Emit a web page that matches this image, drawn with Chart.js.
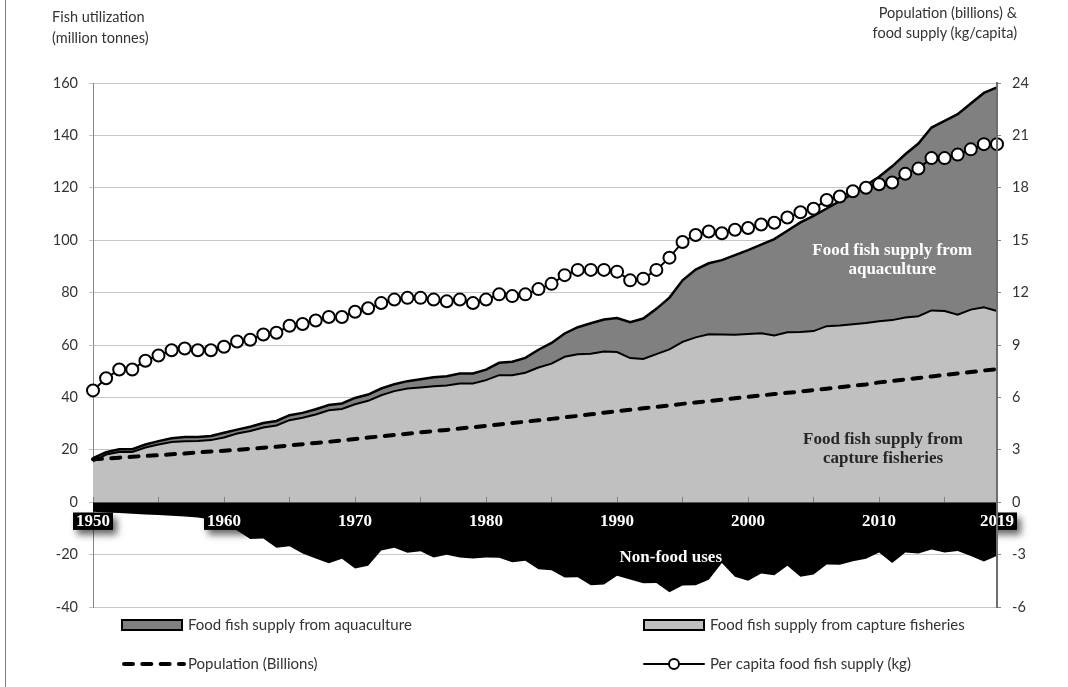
<!DOCTYPE html>
<html>
<head>
<meta charset="utf-8">
<title>Fish utilization and supply, 1950-2019</title>
<script src="https://cdn.jsdelivr.net/npm/chart.js@4.4.1/dist/chart.umd.min.js"></script>
<style>
  html, body { margin: 0; padding: 0; background: #fff; }
  body { width: 1068px; height: 687px; overflow: hidden; position: relative; font-family: Lato, sans-serif; }
  #wrap { position: absolute; left: 0; top: 0; width: 1068px; height: 687px; }
  #frame { position: absolute; left: 5px; top: 0; width: 1px; height: 687px; background: #7f7f7f; }
  .axis-title { position: absolute; font-size: 14.5px; color: #333; }
  #titleLeft { left: 52px; top: 6px; line-height: 21px; }
  #titleRight { right: 51px; top: 3px; line-height: 20px; text-align: right; }
</style>
</head>
<body>
<div id="wrap"><canvas id="fishChart"></canvas></div>
<div id="frame"></div>
<div class="axis-title" id="titleLeft">Fish utilization<br>(million tonnes)</div>
<div class="axis-title" id="titleRight">Population (billions) &amp;<br>food supply (kg/capita)</div>
<script>
const years = [
  1950, 1951, 1952, 1953, 1954, 1955, 1956, 1957, 1958, 1959,
  1960, 1961, 1962, 1963, 1964, 1965, 1966, 1967, 1968, 1969,
  1970, 1971, 1972, 1973, 1974, 1975, 1976, 1977, 1978, 1979,
  1980, 1981, 1982, 1983, 1984, 1985, 1986, 1987, 1988, 1989,
  1990, 1991, 1992, 1993, 1994, 1995, 1996, 1997, 1998, 1999,
  2000, 2001, 2002, 2003, 2004, 2005, 2006, 2007, 2008, 2009,
  2010, 2011, 2012, 2013, 2014, 2015, 2016, 2017, 2018, 2019
];

// million tonnes (left axis)
const captureSupply = [
  15.6, 18.2, 19.2, 19.2, 20.9, 22.0, 23.0, 23.3, 23.4, 23.7,
  24.7, 26.2, 27.2, 28.5, 29.3, 31.3, 32.2, 33.5, 35.1, 35.6,
  37.4, 38.7, 40.8, 42.4, 43.4, 43.8, 44.3, 44.5, 45.3, 45.3,
  46.6, 48.5, 48.5, 49.4, 51.4, 52.9, 55.5, 56.5, 56.7, 57.5,
  57.3, 55.0, 54.7, 56.5, 58.3, 61.2, 62.9, 64.1, 64.0, 63.9,
  64.2, 64.5, 63.6, 64.9, 65.0, 65.3, 67.2, 67.4, 67.9, 68.4,
  69.1, 69.5, 70.5, 71.0, 73.2, 73.0, 71.6, 73.5, 74.4, 73.0
];
const aquacultureSupply = [
  1.2, 0.9, 1.0, 1.0, 1.1, 1.3, 1.4, 1.6, 1.5, 1.6,
  1.8, 1.5, 1.6, 1.7, 1.7, 1.9, 1.9, 2.0, 2.0, 2.1,
  2.4, 2.4, 2.6, 2.6, 2.8, 3.1, 3.4, 3.6, 3.8, 3.8,
  4.0, 4.7, 5.1, 5.7, 6.8, 7.9, 8.9, 10.3, 11.6, 12.2,
  13.0, 13.7, 15.4, 17.3, 19.8, 23.5, 25.9, 27.1, 28.4, 30.4,
  32.0, 33.8, 36.8, 38.7, 41.8, 44.0, 44.9, 47.5, 49.9, 52.6,
  55.1, 58.7, 62.3, 65.9, 69.8, 72.5, 76.5, 78.7, 81.8, 85.3
];
const nonFoodUses = [
  -3.6, -3.9, -4.1, -4.4, -4.7, -4.9, -5.2, -5.5, -5.8, -6.6,
  -8.2, -10.8, -14.0, -13.9, -17.4, -16.8, -19.6, -21.5, -23.3, -21.6,
  -25.3, -24.3, -18.4, -17.4, -19.3, -18.7, -21.1, -20.1, -21.1, -21.5,
  -21.1, -21.2, -22.9, -22.3, -25.6, -26.0, -28.7, -28.6, -31.7, -31.4,
  -28.1, -29.5, -30.9, -30.8, -34.4, -31.8, -31.7, -29.6, -23.2, -28.5,
  -30.0, -27.2, -27.9, -24.3, -28.5, -27.6, -23.8, -23.9, -22.5, -21.6,
  -19.2, -23.2, -19.2, -19.6, -18.1, -19.2, -18.6, -20.5, -22.6, -20.4
];

// billions and kg/capita (right axis)
const population = [
  2.46, 2.50, 2.55, 2.60, 2.65, 2.69, 2.74, 2.79, 2.85, 2.90,
  2.95, 3.00, 3.06, 3.12, 3.18, 3.25, 3.32, 3.39, 3.46, 3.54,
  3.62, 3.70, 3.77, 3.85, 3.92, 4.00, 4.07, 4.14, 4.22, 4.29,
  4.37, 4.45, 4.53, 4.61, 4.69, 4.77, 4.86, 4.94, 5.03, 5.12,
  5.21, 5.29, 5.38, 5.46, 5.54, 5.63, 5.71, 5.79, 5.87, 5.95,
  6.03, 6.11, 6.19, 6.26, 6.34, 6.42, 6.50, 6.58, 6.66, 6.74,
  6.86, 6.94, 7.03, 7.11, 7.20, 7.28, 7.37, 7.45, 7.54, 7.62
];
const perCapitaSupply = [
  6.4, 7.1, 7.6, 7.6, 8.1, 8.4, 8.7, 8.8, 8.7, 8.7,
  8.9, 9.2, 9.3, 9.6, 9.7, 10.1, 10.2, 10.4, 10.6, 10.6,
  10.9, 11.1, 11.4, 11.6, 11.7, 11.7, 11.6, 11.5, 11.6, 11.4,
  11.6, 11.9, 11.8, 11.9, 12.2, 12.5, 13.0, 13.3, 13.3, 13.3,
  13.2, 12.7, 12.8, 13.3, 14.0, 14.9, 15.3, 15.5, 15.4, 15.6,
  15.7, 15.9, 16.0, 16.3, 16.6, 16.8, 17.3, 17.5, 17.8, 18.0,
  18.2, 18.3, 18.8, 19.1, 19.7, 19.7, 19.9, 20.2, 20.5, 20.5
];

const xLabelYears = [1950, 1960, 1970, 1980, 1990, 2000, 2010, 2019];
const xMarkYears = [1950, 1955, 1960, 1965, 1970, 1975, 1980, 1985, 1990, 1995, 2000, 2005, 2010, 2015, 2019];

const serifBold = { family: 'Liberation Serif', weight: 'bold', size: 17, lineHeight: 1 };
const xTickPad = 15.5;
const xTickLen = -5;

// black box shadows behind the year labels
const labelShadows = {
  id: 'labelShadows',
  afterDatasetsDraw(chart) {
    const xs = chart.scales.x, ys = chart.scales.y, ctx = chart.ctx;
    const top = ys.getPixelForValue(0) + xTickLen + xTickPad;
    ctx.save();
    ctx.font = 'bold 17px "Liberation Serif"';
    ctx.fillStyle = '#000';
    ctx.shadowColor = 'rgba(0,0,0,0.6)';
    ctx.shadowBlur = 7;
    ctx.shadowOffsetX = 4;
    ctx.shadowOffsetY = 5;
    xs.ticks.forEach((t, i) => {
      if (!t.label) return;
      const w = ctx.measureText(t.label).width + 6;
      const px = xs.getPixelForTick(i);
      ctx.fillRect(px - w / 2, top, w, 17);
    });
    ctx.restore();
  }
};

// in-chart area labels, anchored in data units
const areaNotes = [
  { lines: ['Food fish supply from', 'aquaculture'], year: 2011, value: 96, color: '#fff' },
  { lines: ['Food fish supply from', 'capture fisheries'], year: 2010.3, value: 24, color: '#262626' },
  { lines: ['Non-food uses'], year: 1994.1, value: -21, color: '#fff' }
];
const areaLabels = {
  id: 'areaLabels',
  afterDraw(chart) {
    const xs = chart.scales.x, ys = chart.scales.y, ctx = chart.ctx;
    ctx.save();
    ctx.font = 'bold 17px "Liberation Serif"';
    ctx.textAlign = 'center';
    ctx.textBaseline = 'middle';
    areaNotes.forEach(n => {
      const px = xs.getPixelForValue(n.year - years[0]);
      const py = ys.getPixelForValue(n.value);
      ctx.fillStyle = n.color;
      n.lines.forEach((ln, k) => ctx.fillText(ln, px, py + k * 19));
    });
    ctx.restore();
  }
};

// two-by-two legend under the plot
const legendSlots = [
  { ds: 3, col: 0, row: 0, kind: 'area' },
  { ds: 2, col: 1, row: 0, kind: 'area' },
  { ds: 1, col: 0, row: 1, kind: 'line' },
  { ds: 0, col: 1, row: 1, kind: 'marker' }
];
const quadLegend = {
  id: 'quadLegend',
  afterDraw(chart) {
    const ctx = chart.ctx, area = chart.chartArea;
    const colX = [area.left + 29, area.left + 551];
    const rowY = [area.bottom + 18, area.bottom + 57];
    ctx.save();
    legendSlots.forEach(s => {
      const d = chart.data.datasets[s.ds];
      const x = colX[s.col], y = rowY[s.row];
      ctx.setLineDash([]);
      if (s.kind === 'area') {
        ctx.fillStyle = d.backgroundColor;
        ctx.fillRect(x, y - 5, 60, 10);
        ctx.strokeStyle = '#000';
        ctx.lineWidth = 2;
        ctx.strokeRect(x, y - 5, 60, 10);
      } else if (s.kind === 'line') {
        ctx.strokeStyle = d.borderColor;
        ctx.lineWidth = d.borderWidth;
        ctx.lineCap = d.borderCapStyle;
        ctx.setLineDash(d.borderDash);
        ctx.beginPath();
        ctx.moveTo(x + 2, y);
        ctx.lineTo(x + 62, y);
        ctx.stroke();
      } else {
        ctx.strokeStyle = d.borderColor;
        ctx.lineWidth = d.borderWidth;
        ctx.beginPath();
        ctx.moveTo(x, y);
        ctx.lineTo(x + 60, y);
        ctx.stroke();
        ctx.beginPath();
        ctx.arc(x + 30, y, 5, 0, Math.PI * 2);
        ctx.fillStyle = d.pointBackgroundColor;
        ctx.fill();
        ctx.stroke();
      }
      ctx.setLineDash([]);
      ctx.fillStyle = '#333';
      ctx.font = '15px Lato';
      ctx.textAlign = 'left';
      ctx.textBaseline = 'middle';
      ctx.fillText(d.label, x + 66, y);
    });
    ctx.restore();
  }
};

Chart.defaults.font.family = 'Lato';
Chart.defaults.font.size = 14;
Chart.defaults.color = '#333';

new Chart(document.getElementById('fishChart'), {
  type: 'line',
  data: {
    labels: years,
    datasets: [
      {
        label: 'Per capita food fish supply (kg)',
        data: perCapitaSupply,
        yAxisID: 'y2',
        borderColor: '#000',
        borderWidth: 2,
        pointRadius: 6,
        pointBackgroundColor: '#fff',
        pointBorderColor: '#000',
        pointBorderWidth: 2,
        fill: false
      },
      {
        label: 'Population (Billions)',
        data: population,
        yAxisID: 'y2',
        borderColor: '#000',
        borderWidth: 4,
        borderDash: [9, 9.3],
        borderCapStyle: 'round',
        pointRadius: 0,
        fill: false
      },
      {
        label: 'Food fish supply from capture fisheries',
        data: captureSupply,
        yAxisID: 'y',
        stack: 'food',
        borderColor: '#000',
        borderWidth: 2,
        backgroundColor: '#c0c0c0',
        pointRadius: 0,
        fill: 'origin'
      },
      {
        label: 'Food fish supply from aquaculture',
        data: aquacultureSupply,
        yAxisID: 'y',
        stack: 'food',
        borderColor: '#000',
        borderWidth: 2.5,
        backgroundColor: '#808080',
        pointRadius: 0,
        fill: '-1'
      },
      {
        label: 'Non-food uses',
        data: nonFoodUses,
        yAxisID: 'y',
        stack: 'nonfood',
        borderColor: '#000',
        borderWidth: 0,
        backgroundColor: '#000',
        pointRadius: 0,
        fill: 'origin'
      }
    ]
  },
  options: {
    responsive: true,
    maintainAspectRatio: false,
    animation: false,
    events: [],
    layout: { padding: { top: 83, bottom: 80, left: 0, right: 0 } },
    plugins: { legend: { display: false }, tooltip: { enabled: false } },
    scales: {
      x: {
        type: 'category',
        position: { y: 0 },
        border: { display: false },
        grid: { drawOnChartArea: false, drawTicks: true, tickLength: xTickLen, color: '#7f7f7f', z: 1 },
        afterBuildTicks: scale => {
          scale.ticks = scale.ticks.filter(t => xMarkYears.includes(years[t.value]));
        },
        afterFit: scale => { scale.height = 0; },
        ticks: {
          z: 1,
          autoSkip: false,
          maxRotation: 0,
          padding: xTickPad,
          color: '#fff',
          font: serifBold,
          showLabelBackdrop: true,
          backdropColor: ctx => (ctx.tick && ctx.tick.label ? '#000' : 'rgba(0,0,0,0)'),
          backdropPadding: { x: 3, y: 0 },
          callback: value => (xLabelYears.includes(years[value]) ? String(years[value]) : '')
        }
      },
      y: {
        position: 'left',
        stacked: true,
        min: -40,
        max: 160,
        afterFit: scale => { scale.width = 93; },
        border: { color: '#868686', width: 1 },
        grid: { color: '#c6c6c6', lineWidth: 1, tickLength: 4 },
        ticks: { stepSize: 20, padding: 11, color: '#333', font: { size: 14.5 } }
      },
      y2: {
        position: 'right',
        min: -6,
        max: 24,
        afterFit: scale => { scale.width = 71; },
        border: { color: '#6e6e6e', width: 2, z: 1 },
        grid: { drawOnChartArea: false, color: '#868686', tickLength: 4 },
        ticks: { stepSize: 3, padding: 11, color: '#333', font: { size: 14.5 } }
      }
    }
  },
  plugins: [labelShadows, areaLabels, quadLegend]
});
</script>
</body>
</html>
